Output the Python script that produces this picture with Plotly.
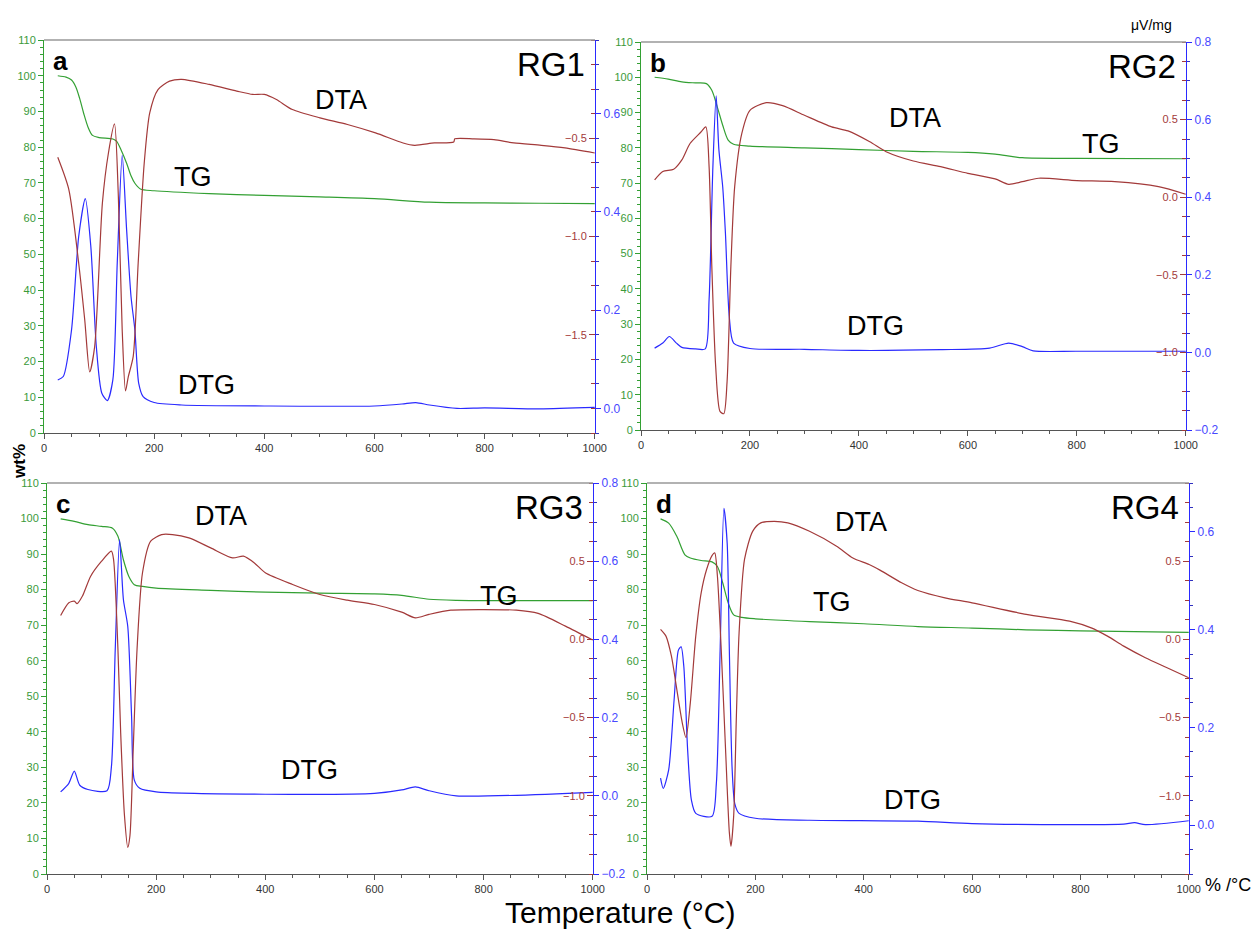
import plotly.graph_objects as go

# ---------------- Panel a (RG1) ----------------
A_TG_T = [25, 40, 50, 58, 65, 72, 80, 88, 100, 125, 132, 140, 150, 158, 165, 175, 200, 300, 400, 500, 600, 700, 800, 900, 1000]
A_TG = [100, 99.6, 98.8, 96.8, 93.5, 89.5, 85.6, 83.3, 82.7, 82.3, 81.6, 79.2, 75.5, 72.0, 69.9, 68.3, 67.8, 67.0, 66.5, 66.1, 65.6, 64.6, 64.4, 64.3, 64.2]

A_DTA_T = [25, 45, 63, 74, 83, 92, 106, 117, 128, 135, 142, 148, 153, 162, 171, 182, 192, 207, 228, 250,
           300, 350, 379, 400, 422, 451, 501, 551, 602, 652, 673, 709, 744, 746, 781, 817, 853, 903, 946, 1000]
A_DTA = [-0.597, -0.76, -1.136, -1.425, -1.689, -1.56, -0.83, -0.575, -0.427, -0.796, -1.476, -1.786, -1.714,
         -1.61, -1.136, -0.626, -0.371, -0.252, -0.209, -0.2, -0.226, -0.26, -0.277, -0.277, -0.303, -0.354,
         -0.396, -0.43, -0.473, -0.524, -0.536, -0.524, -0.519, -0.503, -0.503, -0.507, -0.524, -0.536, -0.549, -0.575]

A_DTG_T = [25, 35, 50, 63, 75, 85, 95, 105, 115, 125, 133, 142, 150, 158, 165, 172, 180, 200, 250, 400,
           600, 650, 675, 700, 750, 800, 900, 1000]
A_DTG = [0.058, 0.065, 0.16, 0.35, 0.427, 0.33, 0.126, 0.031, 0.016, 0.058, 0.296, 0.515, 0.364, 0.228, 0.16,
         0.051, 0.024, 0.012, 0.007, 0.005, 0.005, 0.009, 0.012, 0.007, 0.0, 0.001, -0.001, 0.002]

# ---------------- Panel b (RG2) ----------------
B_TG_T = [25, 50, 75, 100, 120, 130, 140, 150, 160, 170, 200, 300, 400, 500, 600, 650, 700, 800, 1000]
B_TG = [100.0, 99.5, 98.7, 98.4, 98.2, 96.3, 91.6, 86.4, 82.2, 81.0, 80.5, 80.0, 79.5, 79.0, 78.7, 78.2, 77.2, 77.0, 76.9]

B_DTA_T = [25, 40, 60, 75, 90, 110, 119, 125, 130, 137, 145, 152, 158, 165, 172, 185, 200, 230, 260, 300,
           350, 380, 420, 450, 500, 550, 600, 650, 675, 700, 730, 800, 870, 950, 1000]
B_DTA = [0.111, 0.165, 0.18, 0.24, 0.346, 0.42, 0.453, 0.197, -0.444, -1.085, -1.38, -1.395, -1.19, -0.444,
         0.068, 0.41, 0.56, 0.609, 0.59, 0.528, 0.453, 0.427, 0.357, 0.293, 0.233, 0.197, 0.154, 0.118, 0.083,
         0.1, 0.122, 0.107, 0.1, 0.068, 0.019]

B_DTG_T = [25, 40, 52, 65, 75, 100, 118, 125, 132, 138, 143, 150, 155, 162, 170, 200, 300, 400, 550, 640,
           675, 700, 720, 800, 1000]
B_DTG = [0.011, 0.024, 0.041, 0.024, 0.013, 0.009, 0.009, 0.136, 0.479, 0.661, 0.522, 0.427, 0.307, 0.093,
         0.024, 0.010, 0.008, 0.005, 0.007, 0.011, 0.024, 0.015, 0.004, 0.003, 0.003]

# ---------------- Panel c (RG3) ----------------
C_TG_T = [25, 50, 75, 100, 120, 130, 140, 150, 160, 175, 200, 300, 400, 500, 600, 650, 700, 750, 1000]
C_TG = [99.9, 99.2, 98.3, 97.8, 97.3, 95.0, 88.4, 83.7, 81.4, 80.9, 80.4, 79.8, 79.3, 79.0, 78.8, 78.4, 77.3, 77.0, 76.9]

C_DTA_T = [25, 40, 50, 55, 65, 80, 100, 118, 122, 130, 135, 142, 148, 152, 158, 165, 175, 190, 210, 230,
           260, 300, 340, 360, 380, 400, 450, 500, 550, 600, 650, 675, 700, 740, 800, 860, 900, 950, 1000]
C_DTA = [0.153, 0.234, 0.245, 0.228, 0.277, 0.404, 0.5, 0.564, 0.51, -0.064, -0.596, -1.128, -1.33, -1.255,
         -0.702, -0.064, 0.426, 0.628, 0.67, 0.67, 0.649, 0.585, 0.521, 0.532, 0.489, 0.426, 0.351, 0.287,
         0.251, 0.223, 0.174, 0.138, 0.16, 0.187, 0.191, 0.187, 0.166, 0.085, -0.004]

C_DTG_T = [25, 40, 50, 60, 75, 110, 118, 125, 133, 140, 148, 155, 160, 170, 200, 400, 600, 650, 675, 700,
           750, 1000]
C_DTG = [0.010, 0.032, 0.063, 0.027, 0.016, 0.013, 0.074, 0.373, 0.655, 0.502, 0.433, 0.203, 0.04, 0.019,
         0.010, 0.004, 0.006, 0.015, 0.023, 0.013, 0.0, 0.009]

# ---------------- Panel d (RG4) ----------------
D_TG_T = [25, 40, 55, 70, 80, 100, 120, 130, 140, 150, 160, 175, 200, 300, 400, 500, 600, 700, 800, 1000]
D_TG = [99.9, 98.7, 95.0, 89.8, 88.9, 88.2, 87.8, 86.5, 81.8, 76.2, 72.9, 72.2, 71.8, 71.0, 70.4, 69.6, 69.2, 68.7, 68.4, 68.0]

D_DTA_T = [25, 35, 45, 55, 65, 72, 80, 90, 100, 110, 120, 125, 130, 137, 145, 152, 155, 160, 165, 170,
           180, 195, 210, 235, 260, 300, 350, 380, 410, 430, 470, 500, 550, 600, 700, 780, 820, 850, 880, 920,
           960, 1000]
D_DTA = [0.064, 0.021, -0.106, -0.319, -0.532, -0.628, -0.404, 0.021, 0.298, 0.447, 0.536, 0.553, 0.404,
         -0.064, -0.702, -1.234, -1.323, -1.128, -0.489, 0.043, 0.511, 0.691, 0.745, 0.755, 0.745, 0.691,
         0.596, 0.521, 0.479, 0.443, 0.362, 0.313, 0.266, 0.234, 0.16, 0.117, 0.074, 0.021, -0.043, -0.117,
         -0.181, -0.245]

D_DTG_T = [25, 30, 40, 50, 58, 63, 68, 75, 82, 90, 120, 128, 135, 142, 148, 152, 157, 162, 170, 200,
           300, 500, 600, 800, 880, 900, 920, 1000]
D_DTG = [0.096, 0.075, 0.113, 0.256, 0.358, 0.365, 0.324, 0.154, 0.051, 0.024, 0.018, 0.085, 0.358, 0.648,
         0.577, 0.358, 0.119, 0.044, 0.024, 0.014, 0.010, 0.008, 0.003, 0.001, 0.002, 0.005, 0.001, 0.009]

# ---------------- Axis settings / labels ----------------
LETTERS = ["a", "b", "c", "d"]
SAMPLES = ["RG1", "RG2", "RG3", "RG4"]
X_TICKS = [0, 200, 400, 600, 800, 1000]
DTG_RANGES = [[-0.05, 0.75], [-0.2, 0.8], [-0.2, 0.8], [-0.1, 0.7]]
DTG_TICKS = [[0.0, 0.2, 0.4, 0.6], [-0.2, 0.0, 0.2, 0.4, 0.6, 0.8], [-0.2, 0.0, 0.2, 0.4, 0.6, 0.8], [0.0, 0.2, 0.4, 0.6]]
DTA_RANGES = [[-2.0, 0.0], [-1.5, 1.0], [-1.5, 1.0], [-1.5, 1.0]]
DTA_TICKS = [[-1.5, -1.0, -0.5], [-1.0, -0.5, 0.0, 0.5], [-1.0, -0.5, 0.0, 0.5], [-1.0, -0.5, 0.0, 0.5]]
# curve-label positions (temperature, wt%) for DTA, TG, DTG
LABEL_POS = [
    [(540, 93.1), (270, 71.6), (295, 13.3)],
    [(503, 88.5), (845, 81.1), (431, 29.5)],
    [(319, 100.6), (829, 78.3), (481, 29.3)],
    [(395, 99.1), (341, 76.4), (490, 20.8)],
]

panels = [
    (A_TG_T, A_TG, A_DTA_T, A_DTA, A_DTG_T, A_DTG),
    (B_TG_T, B_TG, B_DTA_T, B_DTA, B_DTG_T, B_DTG),
    (C_TG_T, C_TG, C_DTA_T, C_DTA, C_DTG_T, C_DTG),
    (D_TG_T, D_TG, D_DTA_T, D_DTA, D_DTG_T, D_DTG),
]

W, H = 1255, 933
# pixel boxes (left, right, top, bottom)
BOXES = [(44, 595, 40, 433), (641, 1186, 42, 430), (47, 593, 483, 874), (647, 1189, 483, 874)]

GREEN = "#33a033"
GREEN_TXT = "#3a9a3a"
RED = "#a33a3a"
BLUE = "#2a2aff"
BLUE_TXT = "#4848ff"
FONT = "Liberation Sans, Arial, sans-serif"

fig = go.Figure()
layout = dict(width=W, height=H, autosize=False,
              margin=dict(l=0, r=0, t=0, b=0, pad=0, autoexpand=False),
              paper_bgcolor="white", plot_bgcolor="white", showlegend=False,
              font=dict(family=FONT))
annotations = []
shapes = []

for i, (tgt, tg, dtat, dta, dtgt, dtg) in enumerate(panels):
    k = i + 1
    gi, bi, ri = 3 * i + 1, 3 * i + 2, 3 * i + 3
    xn = "x" if k == 1 else f"x{k}"
    gn = "y" if gi == 1 else f"y{gi}"
    bn, rn = f"y{bi}", f"y{ri}"
    l, r, t, b = BOXES[i]
    xd = [l / W, r / W]
    yd = [1 - b / H, 1 - t / H]

    fig.add_trace(go.Scatter(x=tgt, y=tg, mode="lines", xaxis=xn, yaxis=gn,
                             line=dict(color=GREEN, width=1.2, shape="spline", smoothing=0.8)))
    fig.add_trace(go.Scatter(x=dtat, y=dta, mode="lines", xaxis=xn, yaxis=rn,
                             line=dict(color=RED, width=1.2, shape="spline", smoothing=0.7)))
    fig.add_trace(go.Scatter(x=dtgt, y=dtg, mode="lines", xaxis=xn, yaxis=bn,
                             line=dict(color=BLUE, width=1.2, shape="spline", smoothing=0.7)))

    layout["xaxis" if k == 1 else f"xaxis{k}"] = dict(
        domain=xd, anchor=gn, range=[0, 1000.5], tickvals=X_TICKS,
        ticks="outside", ticklen=5, tickcolor="#555", showline=True, linecolor="#555", linewidth=1,
        tickfont=dict(size=11, color="#333"), showgrid=False, zeroline=False, automargin=False,
        minor=dict(dtick=50, ticks="outside", ticklen=3, tickcolor="#555"))
    layout["yaxis" if gi == 1 else f"yaxis{gi}"] = dict(
        domain=yd, anchor=xn, range=[0, 110], tickvals=list(range(0, 111, 10)),
        ticks="outside", ticklen=5, tickcolor=GREEN, showline=True, linecolor=GREEN, linewidth=1,
        tickfont=dict(size=11, color=GREEN_TXT), showgrid=False, zeroline=False, automargin=False,
        minor=dict(dtick=2, ticks="outside", ticklen=3, tickcolor=GREEN))
    layout[f"yaxis{bi}"] = dict(
        overlaying=gn, anchor=xn, side="right", range=DTG_RANGES[i], tickvals=DTG_TICKS[i],
        tickformat=".1f", ticks="outside", ticklen=5, tickcolor=BLUE, showline=True, linecolor=BLUE,
        linewidth=1.2, tickfont=dict(size=12, color=BLUE_TXT), showgrid=False, zeroline=False,
        automargin=False,
        minor=dict(dtick=0.05, tick0=0, ticks="outside", ticklen=3, tickcolor="#3030c0"))
    # DTA axis sits on the right border, ticks and labels pointing into the plot
    layout[f"yaxis{ri}"] = dict(
        overlaying=gn, anchor="free", position=xd[1], side="left", range=DTA_RANGES[i],
        tickvals=DTA_TICKS[i], tickformat=".1f", ticks="outside", ticklen=6, tickcolor=RED,
        showline=False, tickfont=dict(size=11, color=RED), showgrid=False, zeroline=False,
        automargin=False,
        minor=dict(dtick=0.125, tick0=0, ticks="outside", ticklen=4, tickcolor=RED))

    # top border
    shapes.append(dict(type="line", xref=f"{xn} domain", yref=f"{gn} domain", x0=0, x1=1, y0=1, y1=1,
                       line=dict(color="#999", width=1.5)))

    annotations.append(dict(text=f"<b>{LETTERS[i]}</b>", xref=f"{xn} domain", yref=f"{gn} domain",
                            x=0.012, y=0.99, xanchor="left", yanchor="top", showarrow=False,
                            font=dict(size=26, color="black")))
    annotations.append(dict(text=SAMPLES[i], xref=f"{xn} domain", yref=f"{gn} domain",
                            x=0.985, y=0.99, xanchor="right", yanchor="top", showarrow=False,
                            font=dict(size=33, color="black")))
    for name, (tx, ty) in zip(["DTA", "TG", "DTG"], LABEL_POS[i]):
        annotations.append(dict(text=name, xref=xn, yref=gn, x=tx, y=ty, showarrow=False,
                                xanchor="center", yanchor="middle",
                                font=dict(size=27, color="black")))

def paper_text(text, px, py, size, angle=0):
    return dict(text=text, xref="paper", yref="paper", x=px / W, y=1 - py / H, textangle=angle,
                xanchor="center", yanchor="middle", showarrow=False,
                font=dict(size=size, color="black"))

annotations.append(paper_text("<b>wt%</b>", 20, 462, 17, -90))
annotations.append(paper_text("μV/mg", 1151, 25, 14))
annotations.append(paper_text("% /°C", 1228, 885, 18))
annotations.append(paper_text("Temperature (°C)", 620, 912, 30))

layout["annotations"] = annotations
layout["shapes"] = shapes
fig.update_layout(**layout)
fig.write_html("out.html", config={"displayModeBar": False},
               post_script="document.documentElement.style.margin='0';document.body.style.margin='0';"
                           "document.body.style.overflow='hidden';")
